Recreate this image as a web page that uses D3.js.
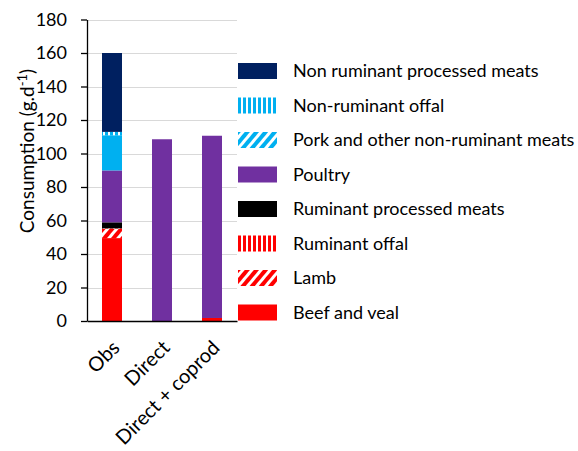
<!DOCTYPE html>
<html><head><meta charset="utf-8">
<script src="https://cdn.jsdelivr.net/npm/d3@7"></script>
<style>body{margin:0;background:#fff;}svg{display:block;font-family:Lato,"Open Sans",sans-serif;}</style>
</head><body>
<svg id="c" width="578" height="451"></svg>
<script>
const categories = ["Obs", "Direct", "Direct + coprod"];
const seriesNames = ["Beef and veal", "Lamb", "Ruminant offal", "Ruminant processed meats", "Poultry", "Pork and other non-ruminant meats", "Non-ruminant offal", "Non ruminant processed meats"];
const beef = [49.5, 0, 1.8];
const lamb = [5.5, 0, 0];
const ruminantOffal = [0.3, 0, 0];
const ruminantProcessed = [3.6, 0, 0];
const poultry = [31, 108.5, 108.8];
const pork = [21, 0, 0];
const nonRuminantOffal = [2, 0, 0];
const nonRuminantProcessed = [47.1, 0, 0];
const yTicks = [0, 20, 40, 60, 80, 100, 120, 140, 160, 180];
const legendOrder = ["Non ruminant processed meats", "Non-ruminant offal", "Pork and other non-ruminant meats", "Poultry", "Ruminant processed meats", "Ruminant offal", "Lamb", "Beef and veal"];

const seriesValues = [beef, lamb, ruminantOffal, ruminantProcessed, poultry, pork, nonRuminantOffal, nonRuminantProcessed];
const rows = categories.map((c, i) => {
  const r = {cat: c};
  seriesNames.forEach((s, j) => r[s] = seriesValues[j][i]);
  return r;
});

const svg = d3.select("#c");
const defs = svg.append("defs");
function stripes(id, color, angle, period, w) {
  const p = defs.append("pattern").attr("id", id).attr("patternUnits", "userSpaceOnUse")
    .attr("width", period).attr("height", period).attr("patternTransform", `rotate(${angle})`);
  p.append("rect").attr("width", period).attr("height", period).attr("fill", "#fff");
  p.append("rect").attr("width", w).attr("height", period).attr("fill", color);
}
stripes("vRed", "#ff0000", 0, 5, 3);
stripes("vCyan", "#00b0f0", 0, 5, 3);
stripes("dRed", "#ff0000", 40, 7, 4);
stripes("dCyan", "#00b0f0", 40, 7, 4);

const barFill = {
  "Beef and veal": "#ff0000", "Lamb": "url(#dRed)", "Ruminant offal": "url(#vRed)",
  "Ruminant processed meats": "#000000", "Poultry": "#7030a0",
  "Pork and other non-ruminant meats": "#00b0f0", "Non-ruminant offal": "url(#vCyan)",
  "Non ruminant processed meats": "#002060"
};
const legendFill = Object.assign({}, barFill, {"Pork and other non-ruminant meats": "url(#dCyan)"});

const x = d3.scaleBand().domain(categories).range([87, 237]).paddingInner(0.6).paddingOuter(0.3);
const y = d3.scaleLinear().domain([0, 180]).range([321, 19.5]);

// gridlines
svg.append("g").selectAll("line").data(yTicks.filter(d => d > 0)).join("line")
  .attr("x1", 87).attr("x2", 237).attr("y1", d => Math.round(y(d)) + 0.5).attr("y2", d => Math.round(y(d)) + 0.5)
  .attr("stroke", "#d9d9d9").attr("stroke-width", 1.2);

const stack = d3.stack().keys(seriesNames)(rows);
svg.append("g").selectAll("g").data(stack).join("g")
  .attr("fill", d => barFill[d.key])
  .selectAll("rect").data(d => d).join("rect")
  .attr("x", d => x(d.data.cat)).attr("width", x.bandwidth())
  .attr("y", d => y(d[1])).attr("height", d => Math.max(0, y(d[0]) - y(d[1])));

// y axis
const yAxis = svg.append("g").attr("transform", "translate(87,0)")
  .call(d3.axisLeft(y).tickValues(yTicks).tickSize(6).tickPadding(14).tickSizeOuter(0));
yAxis.select(".domain").attr("stroke", "#000").attr("stroke-width", 1.3);
yAxis.selectAll(".tick line").attr("stroke", "#000").attr("stroke-width", 1.3);
yAxis.selectAll(".tick text").attr("font-size", 18).attr("fill", "#000").attr("font-family", "Lato");

// x axis baseline
const xAxis = svg.append("g").attr("transform", "translate(0,321)")
  .call(d3.axisBottom(x).tickSize(0).tickSizeOuter(0));
xAxis.select(".domain").attr("stroke", "#000").attr("stroke-width", 1.3);
xAxis.selectAll(".tick text").attr("font-size", 20).attr("fill", "#000").attr("font-family", "Lato")
  .attr("text-anchor", "end").attr("dy", null).attr("y", 0)
  .attr("transform", "translate(9,28) rotate(-45)");

// y title
const yt = svg.append("text").attr("transform", "translate(34,151) rotate(-90)")
  .attr("text-anchor", "middle").attr("font-size", 19).attr("fill", "#000");
yt.append("tspan").text("Consumption (g.d");
yt.append("tspan").attr("dy", -7).attr("font-size", 13).text("-1");
yt.append("tspan").attr("dy", 7).text(")");

// legend
const lg = svg.append("g").selectAll("g").data(legendOrder).join("g")
  .attr("transform", (d, i) => `translate(238,${71 + i * 34.5})`);
lg.append("rect").attr("x", 0).attr("y", -8).attr("width", 39).attr("height", 16).attr("fill", d => legendFill[d]);
lg.append("text").attr("x", 55).attr("y", 0).attr("dy", "0.35em").attr("font-size", 18).attr("fill", "#000").text(d => d);
</script>
</body></html>
